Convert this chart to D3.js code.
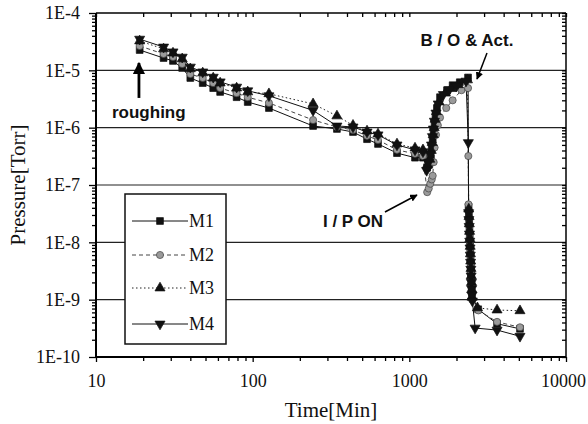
<!DOCTYPE html>
<html>
<head>
<meta charset="utf-8">
<script src="https://cdn.jsdelivr.net/npm/d3@7"></script>
<style>
body{margin:0;background:#fff;}
svg{display:block;}
</style>
</head>
<body>
<div id="svgContainer"></div>
<script>
// data (time in minutes, pressure in Torr)
var earlyTime = [19, 27, 31, 35.5, 40, 48, 56, 62, 79, 93, 127, 243, 345, 437, 537, 631, 834, 1087, 1222];

var m1Time = earlyTime.concat([1300, 1340, 1370, 1390, 1410, 1430, 1450, 1470, 1500, 1570, 1740, 1890, 2100, 2370,
    2390, 2400, 2410, 2420, 2430, 2440, 2450, 2460, 2470, 2480, 2490, 2500, 2510, 2750, 3630, 5085]);
var m1Pres = [2.26e-5, 1.64e-5, 1.46e-5, 1.1e-5, 7.35e-6, 6.0e-6, 4.9e-6, 4.2e-6, 3.4e-6, 2.8e-6, 2.2e-6, 1.07e-6, 9.5e-7, 8.4e-7, 6.3e-7, 5.2e-7, 3.6e-7, 3.0e-7, 3.0e-7,
    2.0e-7, 2.3e-7, 3.2e-7, 4.5e-7, 6.5e-7, 9e-7, 1.2e-6, 1.6e-6, 2.2e-6, 3.4e-6, 4.5e-6, 5.5e-6, 6.2e-6, 7.5e-6,
    4.2e-8, 3.1e-8, 2.3e-8, 1.7e-8, 1.25e-8, 9.2e-9, 6.8e-9, 5.1e-9, 3.8e-9, 2.9e-9, 2.2e-9, 1.6e-9, 1.15e-9, 6.8e-10, 3.8e-10, 3.1e-10];

var m2Time = earlyTime.concat([1300, 1330, 1360, 1390, 1410, 1430, 1450, 1480, 1520, 1570, 1720, 1890, 2150, 2370, 2380,
    2385, 2395, 2405, 2415, 2425, 2435, 2445, 2455, 2465, 2475, 2485, 2495, 2505, 2520, 2760, 3630, 5085]);
var m2Pres = [2.66e-5, 1.93e-5, 1.71e-5, 1.29e-5, 8.6e-6, 7.35e-6, 6.0e-6, 4.9e-6, 4.0e-6, 3.4e-6, 2.7e-6, 1.36e-6, 1.03e-6, 9.1e-7, 7.2e-7, 6.1e-7, 4.1e-7, 3.5e-7, 3.2e-7,
    7.5e-8, 8.7e-8, 1.05e-7, 1.25e-7, 1.45e-7, 2.5e-7, 4.5e-7, 7.5e-7, 1.1e-6, 1.5e-6, 2.2e-6, 3.0e-6, 4.5e-6, 4.9e-6, 3.2e-7,
    4.6e-8, 3.5e-8, 2.6e-8, 1.9e-8, 1.4e-8, 1.05e-8, 7.8e-9, 5.8e-9, 4.3e-9, 3.2e-9, 2.4e-9, 1.8e-9, 1.35e-9, 1.0e-9, 6.5e-10, 4.1e-10, 3.3e-10];

var m3Time = earlyTime.concat([1300, 1350, 1380, 1400, 1420, 1440, 1460, 1490, 1550, 1700, 1850, 2050, 2350,
    2395, 2405, 2415, 2425, 2435, 2445, 2455, 2465, 2475, 2485, 2495, 2505, 2515, 2720, 3630, 5085]);
var m3Pres = [3.25e-5, 2.36e-5, 2.0e-5, 1.58e-5, 1.06e-5, 9.0e-6, 7.35e-6, 6.0e-6, 4.9e-6, 4.2e-6, 3.9e-6, 2.6e-6, 1.6e-6, 1.1e-6, 8.75e-7, 7.75e-7, 5.2e-7, 4.4e-7, 4.1e-7,
    2.2e-7, 2.8e-7, 4e-7, 5.5e-7, 7.5e-7, 1.0e-6, 1.4e-6, 1.9e-6, 2.8e-6, 4.0e-6, 4.8e-6, 5.6e-6, 6.8e-6,
    3.8e-8, 2.8e-8, 2.1e-8, 1.55e-8, 1.15e-8, 8.5e-9, 6.3e-9, 4.7e-9, 3.5e-9, 2.6e-9, 2.0e-9, 1.5e-9, 1.1e-9, 7.2e-10, 6.6e-10, 6.4e-10];

var m4Time = earlyTime.concat([1290, 1330, 1360, 1385, 1405, 1425, 1445, 1480, 1530, 1650, 1800, 2000, 2300, 2380,
    2390, 2400, 2410, 2420, 2430, 2440, 2450, 2460, 2470, 2480, 2490, 2500, 2510, 2525, 2630, 3630, 5085]);
var m4Pres = [3.5e-5, 2.55e-5, 2.1e-5, 1.7e-5, 1.14e-5, 9.4e-6, 7.6e-6, 6.3e-6, 5.1e-6, 4.4e-6, 3.6e-6, 2.0e-6, 1.07e-6, 1.03e-6, 8.4e-7, 7.5e-7, 5.0e-7, 4.1e-7, 3.8e-7,
    1.8e-7, 2.5e-7, 3.5e-7, 5e-7, 7e-7, 9.5e-7, 1.3e-6, 1.8e-6, 2.6e-6, 3.8e-6, 4.6e-6, 5.3e-6, 6.5e-6, 5.5e-7,
    3.3e-8, 2.5e-8, 1.9e-8, 1.4e-8, 1.05e-8, 8e-9, 6e-9, 4.5e-9, 3.4e-9, 2.6e-9, 2.0e-9, 1.55e-9, 1.2e-9, 9.5e-10, 3.2e-10, 2.95e-10, 2.3e-10];

var seriesNames = ["M1", "M2", "M3", "M4"];
var xTicks = [10, 100, 1000, 10000];
var xTickLabels = ["10", "100", "1000", "10000"];
var yTicks = [1e-4, 1e-5, 1e-6, 1e-7, 1e-8, 1e-9, 1e-10];
var yTickLabels = ["1E-4", "1E-5", "1E-6", "1E-7", "1E-8", "1E-9", "1E-10"];
var gridValues = [1e-5, 1e-6, 1e-7, 1e-8, 1e-9];

var svgWidth = 588, svgHeight = 424;
var margin = {top: 13, left: 96, right: 22, bottom: 67};

var svg = d3.select("#svgContainer").append("svg")
    .attr("width", svgWidth)
    .attr("height", svgHeight)
    .style("background-color", "#fff");

var x = d3.scaleLog().domain([10, 10000]).range([margin.left, svgWidth - margin.right]);
var y = d3.scaleLog().domain([1e-10, 1e-4]).range([svgHeight - margin.bottom, margin.top]);

var serif = "'Liberation Serif','Times New Roman',serif";
var sans = "'Liberation Sans',Arial,sans-serif";

// grid
svg.append("g").selectAll("line").data(gridValues).enter().append("line")
    .attr("x1", x(10)).attr("x2", x(10000))
    .attr("y1", function(d){ return y(d); })
    .attr("y2", function(d){ return y(d); })
    .attr("stroke", "#222").attr("stroke-width", 1.2);

// axes
var minorX = x.ticks().filter(function(d){ return xTicks.indexOf(d) < 0; });
var minorY = y.ticks().filter(function(d){ return yTicks.indexOf(d) < 0; });

function styleAxis(g){
    g.select(".domain").remove();
    g.attr("font-family", null).attr("font-size", null);
    g.selectAll("line").attr("stroke", "#000").attr("stroke-width", 1.3);
    g.selectAll("text").style("font-family", serif).style("font-size", "18px").attr("fill", "#111");
}

var bottom = y(1e-10), top_ = y(1e-4), left = x(10), right = x(10000);

svg.append("g").attr("transform", "translate(0," + bottom + ")")
    .call(d3.axisBottom(x).tickValues(xTicks).tickFormat(function(d, i){ return xTickLabels[i]; }).tickSize(5).tickPadding(12))
    .call(styleAxis)
    .selectAll("text").filter(function(d){ return d === 10000; }).attr("dx", -3);
svg.append("g").attr("transform", "translate(0," + bottom + ")")
    .call(d3.axisBottom(x).tickValues(minorX).tickFormat("").tickSize(4))
    .call(styleAxis);
svg.append("g").attr("transform", "translate(0," + top_ + ")")
    .call(d3.axisBottom(x).tickValues(x.ticks()).tickFormat("").tickSize(4))
    .call(styleAxis);

svg.append("g").attr("transform", "translate(" + left + ",0)")
    .call(d3.axisLeft(y).tickValues(yTicks).tickFormat(function(d, i){ return yTickLabels[i]; }).tickSize(7).tickPadding(9))
    .call(styleAxis);
svg.append("g").attr("transform", "translate(" + left + ",0)")
    .call(d3.axisLeft(y).tickValues(minorY).tickFormat("").tickSize(4))
    .call(styleAxis);
svg.append("g").attr("transform", "translate(" + right + ",0)")
    .call(d3.axisLeft(y).tickValues(y.ticks()).tickFormat("").tickSize(4))
    .call(styleAxis);

// frame
svg.append("line").attr("x1", left).attr("x2", left).attr("y1", top_).attr("y2", bottom).attr("stroke", "#000").attr("stroke-width", 2);
svg.append("line").attr("x1", left).attr("x2", right).attr("y1", bottom).attr("y2", bottom).attr("stroke", "#000").attr("stroke-width", 2);
svg.append("line").attr("x1", left).attr("x2", right).attr("y1", top_).attr("y2", top_).attr("stroke", "#000").attr("stroke-width", 1.5);
svg.append("line").attr("x1", right).attr("x2", right).attr("y1", top_).attr("y2", bottom).attr("stroke", "#000").attr("stroke-width", 1.5);

// series
var series = [
    {name: "M1", t: m1Time, p: m1Pres, dash: null, lineColor: "#111", symbol: d3.symbolSquare, size: 46, rot: 0, fill: "#111", stroke: "#111"},
    {name: "M2", t: m2Time, p: m2Pres, dash: "4,3", lineColor: "#444", symbol: d3.symbolCircle, size: 40, rot: 0, fill: "#9a9a9a", stroke: "#444"},
    {name: "M3", t: m3Time, p: m3Pres, dash: "1.5,2.5", lineColor: "#222", symbol: d3.symbolTriangle, size: 44, rot: 0, fill: "#111", stroke: "#111"},
    {name: "M4", t: m4Time, p: m4Pres, dash: null, lineColor: "#111", symbol: d3.symbolTriangle, size: 44, rot: 180, fill: "#111", stroke: "#111"}
];

var line = d3.line().x(function(d){ return x(d[0]); }).y(function(d){ return y(d[1]); });

series.forEach(function(s){
    s.points = s.t.map(function(t, i){ return [t, s.p[i]]; });
    svg.append("path")
        .datum(s.points)
        .attr("d", line)
        .attr("fill", "none")
        .attr("stroke", s.lineColor)
        .attr("stroke-width", 1)
        .attr("stroke-dasharray", s.dash);
});

series.forEach(function(s){
    svg.append("g").selectAll("path").data(s.points).enter().append("path")
        .attr("d", d3.symbol().type(s.symbol).size(s.size))
        .attr("transform", function(d){ return "translate(" + x(d[0]) + "," + y(d[1]) + ") rotate(" + s.rot + ")"; })
        .attr("fill", s.fill)
        .attr("stroke", s.stroke)
        .attr("stroke-width", 0.7);
});

// legend
var legend = svg.append("g");
legend.append("rect").attr("x", 125).attr("y", 194).attr("width", 101).attr("height", 150)
    .attr("fill", "#fff").attr("stroke", "#111").attr("stroke-width", 1.5);
var legendY = [221, 255, 288, 324];
series.forEach(function(s, i){
    var g = legend.append("g").attr("transform", "translate(0," + legendY[i] + ")");
    g.append("line").attr("x1", 132).attr("x2", 188).attr("y1", 0).attr("y2", 0)
        .attr("stroke", s.lineColor).attr("stroke-width", 1).attr("stroke-dasharray", s.dash);
    g.append("path").attr("d", d3.symbol().type(s.symbol).size(s.size))
        .attr("transform", "translate(160,0) rotate(" + s.rot + ")")
        .attr("fill", s.fill).attr("stroke", s.stroke).attr("stroke-width", 0.7);
    g.append("text").attr("x", 189).attr("y", 0).attr("dy", "0.35em")
        .attr("font-family", serif).attr("font-size", 18).attr("fill", "#111")
        .text(s.name);
});

// axis titles
svg.append("text").attr("x", (left + right) / 2).attr("y", 417)
    .attr("text-anchor", "middle").attr("font-family", serif).attr("font-size", 21).attr("fill", "#111")
    .text("Time[Min]");
svg.append("text").attr("transform", "translate(25," + ((top_ + bottom) / 2) + ") rotate(-90)")
    .attr("text-anchor", "middle").attr("font-family", serif).attr("font-size", 21).attr("fill", "#111")
    .text("Pressure[Torr]");

// annotations
var defs = svg.append("defs");
defs.append("marker").attr("id", "bigHead").attr("viewBox", "0 0 10 10").attr("refX", 9).attr("refY", 5)
    .attr("markerWidth", 4.5).attr("markerHeight", 4.5).attr("markerUnits", "strokeWidth").attr("orient", "auto")
    .append("path").attr("d", "M0,0 L10,5 L0,10 Z").attr("fill", "#000");
defs.append("marker").attr("id", "smallHead").attr("viewBox", "0 0 10 10").attr("refX", 9).attr("refY", 5)
    .attr("markerWidth", 5).attr("markerHeight", 5).attr("markerUnits", "strokeWidth").attr("orient", "auto")
    .append("path").attr("d", "M0,0 L10,5 L0,10 Z").attr("fill", "#000");

var arrows = [
    {from: [18.8, 3.3e-6], to: [18.8, 1.34e-5], width: 2.8, head: "bigHead"},
    {from: [3131, 2.0e-5], to: [2704, 7.06e-6], width: 1.5, head: "smallHead"},
    {from: [699, 3.38e-8], to: [1119, 6.69e-8], width: 1.5, head: "smallHead"}
];
arrows.forEach(function(a){
    svg.append("line")
        .attr("x1", x(a.from[0])).attr("y1", y(a.from[1]))
        .attr("x2", x(a.to[0])).attr("y2", y(a.to[1]))
        .attr("stroke", "#000").attr("stroke-width", a.width)
        .attr("marker-end", "url(#" + a.head + ")");
});

var notes = [
    {text: "roughing", t: 12.65, p: 1.45e-6, anchor: "start"},
    {text: "B / O & Act.", t: 2334, p: 2.66e-5, anchor: "middle"},
    {text: "I / P ON", t: 281, p: 1.85e-8, anchor: "start"}
];
svg.append("g").selectAll("text").data(notes).enter().append("text")
    .attr("x", function(d){ return x(d.t); })
    .attr("y", function(d){ return y(d.p); })
    .attr("text-anchor", function(d){ return d.anchor; })
    .attr("font-family", sans).attr("font-weight", "bold").attr("font-size", 17).attr("fill", "#111")
    .text(function(d){ return d.text; });
</script>
</body>
</html>
